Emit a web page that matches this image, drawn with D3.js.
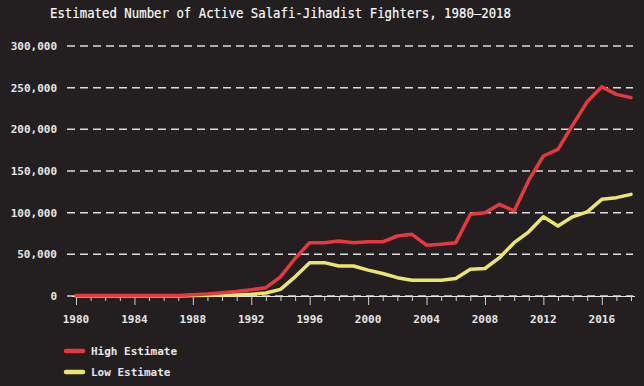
<!DOCTYPE html>
<html><head><meta charset="utf-8">
<script src="https://cdn.jsdelivr.net/npm/d3@7"></script>
<style>
html,body{margin:0;padding:0;background:#231f20;}
svg{display:block;}
text{font-family:"DejaVu Sans Mono","Liberation Mono",monospace;}
</style></head>
<body><svg id="c" width="644" height="386"></svg>
<script>
const title = "Estimated Number of Active Salafi-Jihadist Fighters, 1980\u20132018";
const years = d3.range(1980, 2019);
const highEstimate = [500,500,500,500,500,500,500,600,1500,2500,4000,5500,7500,10000,23000,45000,64000,64000,66000,64000,65000,65000,72000,74000,61000,62000,64000,98000,100000,110000,102000,139000,168000,176000,205000,233000,251000,242000,238000];
const lowEstimate  = [0,0,0,0,0,0,0,0,500,800,1200,1500,2000,3600,8000,23000,40000,40000,36000,36000,31000,27000,22000,19000,19000,19000,21000,32000,33000,46000,64000,77000,95000,84000,95000,101000,116000,118000,122000];
const yTicks = [0,50000,100000,150000,200000,250000,300000];
const xTickYears = [1980,1984,1988,1992,1996,2000,2004,2008,2012,2016];
const seriesNames = ["High Estimate","Low Estimate"];
const seriesColors = ["#e8383d","#ebe56e"];

const svg = d3.select("#c");
const x = d3.scaleLinear().domain([1980,2018]).range([76,631]);
const y = d3.scaleLinear().domain([0,300000]).range([296,46]);

svg.append("text").attr("x",50).attr("y",18).attr("fill","#ffffff")
  .attr("font-size",13.5).attr("textLength",461).attr("lengthAdjust","spacingAndGlyphs")
  .attr("stroke","#ffffff").attr("stroke-width",0.15)
  .text(title);

// grid
svg.append("g").selectAll("line").data(yTicks).join("line")
  .attr("x1",67).attr("x2",633).attr("y1",d=>y(d)).attr("y2",d=>y(d))
  .attr("stroke","#dcdcdc").attr("stroke-width",1.5).attr("stroke-dasharray","8,5");

// y labels
svg.append("g").selectAll("text").data(yTicks).join("text")
  .attr("x",57).attr("y",d=>y(d)).attr("dy","0.35em").attr("text-anchor","end")
  .attr("fill","#e6e6e6").attr("font-size",11).attr("font-weight","bold")
  .text(d=>d3.format(",")(d));

// x axis
const xAxis = d3.axisBottom(x).tickValues(years).tickSize(5).tickFormat("");
const gx = svg.append("g").attr("transform","translate(0,296)").call(xAxis);
gx.select(".domain").attr("stroke","#e6e6e6").attr("d","M72,0.5H635");
gx.selectAll(".tick line").attr("stroke","#cfcfcf")
  .attr("y2",d=>xTickYears.includes(d)?9:5);
svg.append("g").selectAll("text").data(xTickYears).join("text")
  .attr("x",d=>x(d)).attr("y",323).attr("text-anchor","middle")
  .attr("fill","#e6e6e6").attr("font-size",11).attr("font-weight","bold").text(d=>d);

// lines
const line = d3.line().x((d,i)=>x(years[i])).y(d=>y(d));
[lowEstimate, highEstimate].forEach((s,k)=>{
  const idx = k===0?1:0;
  svg.append("path").datum(s).attr("d",line).attr("fill","none")
    .attr("stroke",seriesColors[idx]).attr("stroke-width",3.5)
    .attr("stroke-linejoin","round").attr("stroke-linecap","round");
});

// legend
const lg = svg.append("g").selectAll("g").data(seriesNames).join("g")
  .attr("transform",(d,i)=>`translate(0,${351+i*21})`);
lg.append("line").attr("x1",66).attr("x2",83).attr("stroke",(d,i)=>seriesColors[i])
  .attr("stroke-width",4.5).attr("stroke-linecap","round");
lg.append("text").attr("x",91).attr("dy","0.35em").attr("fill","#e6e6e6")
  .attr("font-size",11).attr("font-weight","bold").text(d=>d);
</script></body></html>
